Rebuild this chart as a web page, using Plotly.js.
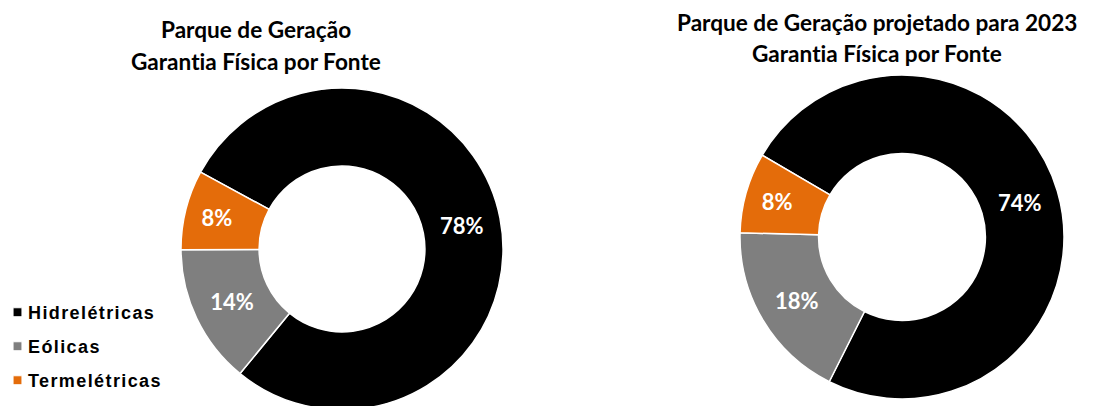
<!DOCTYPE html>
<html>
<head>
<meta charset="utf-8">
<script src="https://cdn.plot.ly/plotly-3.0.1.min.js"></script>
<style>
  html, body { margin: 0; padding: 0; overflow: hidden; background: #ffffff; }
  #chart { width: 1115px; height: 440px; }
  .legendtext { letter-spacing: 1.4px; font-weight: bold !important; }
  text { font-variant-ligatures: none !important; font-feature-settings: "liga" 0 !important; }
</style>
</head>
<body>
<div id="chart"></div>
<script>
// ---- data ----
const categories = ['Hidrelétricas', 'Eólicas', 'Termelétricas'];
const valuesAtual = [78, 14, 8];
const valuesProjetado2023 = [74, 18, 8];
const sliceColors = ['#000000', '#7f7f7f', '#e46c0a'];
const titleAtual = ['Parque de Geração', 'Garantia Física por Fonte'];
const titleProjetado = ['Parque de Geração projetado para 2023', 'Garantia Física por Fonte'];

const W = 1115, H = 440;
const labelFont = { family: 'Lato, "Open Sans", sans-serif', size: 22, color: '#ffffff', weight: 700 };

function donut(values, domX, domY, rotation, showLegend) {
  return {
    type: 'pie',
    labels: categories,
    values: values,
    sort: false,
    direction: 'clockwise',
    rotation: rotation,
    hole: 0.515,
    domain: { x: domX, y: domY },
    marker: { colors: sliceColors, line: { color: '#ffffff', width: 1.5 } },
    textinfo: 'percent',
    texttemplate: '%{percent:.0%}',
    textposition: 'inside',
    insidetextorientation: 'horizontal',
    insidetextfont: labelFont,
    hoverinfo: 'label+percent',
    showlegend: showLegend
  };
}

const data = [
  donut(valuesAtual, [181 / W, 503 / W], [30 / H, 352 / H], -61.5, true),
  donut(valuesProjetado2023, [740 / W, 1064 / W], [41 / H, 365 / H], -59.7, false)
];

const titleFont = { family: 'Lato, "Open Sans", sans-serif', size: 22.6, color: '#000000', weight: 700 };
function titleLine(text, xc, yc) {
  return { text: text, x: xc / W, y: 1 - yc / H, xref: 'paper', yref: 'paper',
           xanchor: 'center', yanchor: 'middle', showarrow: false, font: titleFont };
}

const layout = {
  width: W, height: H,
  margin: { l: 0, r: 0, t: 0, b: 0, autoexpand: false },
  paper_bgcolor: '#ffffff',
  plot_bgcolor: '#ffffff',
  showlegend: true,
  legend: {
    x: -2 / W, xanchor: 'left',
    y: 1 - 294 / H, yanchor: 'top',
    font: { family: '"Liberation Sans", Arial, sans-serif', size: 18, color: '#000000', weight: 700 },
    bgcolor: 'rgba(0,0,0,0)',
    traceorder: 'normal'
  },
  annotations: [
    titleLine(titleAtual[0], 256, 30),
    titleLine(titleAtual[1], 256, 62),
    titleLine(titleProjetado[0], 877, 22),
    titleLine(titleProjetado[1], 877, 54)
  ]
};

const gd = document.getElementById('chart');
Plotly.newPlot(gd, data, layout, { displayModeBar: false }).then(function () {
  // spread legend entries like the original (34px apart) and tighten symbol/text gap
  const sb = gd.querySelector('.legend .scrollbox');
  if (sb) sb.removeAttribute('clip-path');
  const legendEl = gd.querySelector('.legend');
  if (legendEl) legendEl.removeAttribute('clip-path');
  const items = gd.querySelectorAll('.legend .traces');
  let y0 = null;
  items.forEach(function (g, i) {
    const m = /translate\(\s*([-\d.e]+)[ ,]+([-\d.e]+)\s*\)/.exec(g.getAttribute('transform') || '');
    const x = m ? parseFloat(m[1]) : 0;
    const y = m ? parseFloat(m[2]) : 0;
    if (y0 === null) y0 = y;
    g.setAttribute('transform', 'translate(' + x + ',' + (y0 + i * 34) + ')');
    const sym = g.querySelector('path.legendpie');
    if (sym) sym.setAttribute('transform', 'translate(19.5,0) scale(0.75)');
    const txt = g.querySelector('text.legendtext');
    if (txt) txt.setAttribute('x', 30);
  });
});
</script>
</body>
</html>
